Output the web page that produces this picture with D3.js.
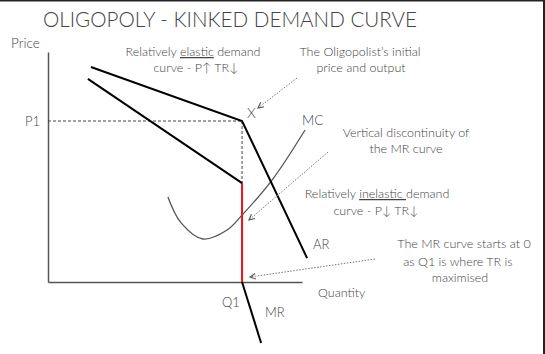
<!DOCTYPE html>
<html>
<head>
<meta charset="utf-8">
<script src="https://cdn.jsdelivr.net/npm/d3@7"></script>
<style>
  body { margin: 0; background: #fff; }
  text { font-family: Lato, "Open Sans", sans-serif; font-weight: 300; fill: #444; }
</style>
</head>
<body>
<div id="chart"></div>
<script>
// chart size
let svgWidth = 545;
let svgHeight = 354;

// curve data (quantity, price)
let arQ = [1.69, 7.64, 10.2];
let arP = [9.35, 7.0, 1.04];
let mrUpperQ = [1.57, 7.64];
let mrUpperP = [8.83, 4.3];
let mrLowerQ = [7.64, 8.39];
let mrLowerP = [0, -2.65];
let mcQ = [4.72, 5.24, 6.10, 7.05, 7.64, 8.82, 10.12];
let mcP = [3.70, 2.57, 1.87, 2.26, 2.91, 4.43, 6.61];
let p1 = 7.0;
let q1 = 7.64;
let mrKinkLow = 4.3;

let svg = d3.select('#chart').append('svg')
    .attr('width', svgWidth).attr('height', svgHeight);

// frame edges
svg.append('rect').attr('x', 0).attr('y', 0).attr('width', svgWidth).attr('height', 1.5).attr('fill', '#222');
svg.append('rect').attr('x', svgWidth - 2).attr('y', 0).attr('width', 2).attr('height', svgHeight).attr('fill', '#222');

// scales
let x = d3.scaleLinear().domain([0, 10]).range([48, 302]);
let y = d3.scaleLinear().domain([0, 10]).range([282, 52]);

// arrow marker (small open chevron)
svg.append('defs').append('marker')
    .attr('id', 'arrow')
    .attr('viewBox', '0 0 10 10')
    .attr('refX', 9).attr('refY', 5)
    .attr('markerWidth', 7).attr('markerHeight', 7)
    .attr('markerUnits', 'userSpaceOnUse')
    .attr('orient', 'auto')
    .append('path').attr('d', 'M1,1 L9,5 L1,9').attr('fill', 'none')
    .attr('stroke', '#555').attr('stroke-width', 1.6);

// axes (domain lines only)
svg.append('g').attr('transform', `translate(0, ${y(0)})`)
    .call(d3.axisBottom(x).tickValues([]).tickSizeOuter(0))
    .select('.domain').attr('stroke', '#555').attr('stroke-width', 1.5);
svg.append('g').attr('transform', `translate(${x(0)}, 0)`)
    .call(d3.axisLeft(y).tickValues([]).tickSizeOuter(0))
    .select('.domain').attr('stroke', '#555').attr('stroke-width', 1.5);

// dashed guides
svg.append('line')
    .attr('x1', x(0)).attr('x2', x(q1)).attr('y1', y(p1)).attr('y2', y(p1))
    .attr('stroke', '#444').attr('stroke-width', 1).attr('stroke-dasharray', '3,2');
svg.append('line')
    .attr('x1', x(q1)).attr('x2', x(q1)).attr('y1', y(p1)).attr('y2', y(mrKinkLow))
    .attr('stroke', '#444').attr('stroke-width', 1).attr('stroke-dasharray', '3,2');

let line = d3.line().x(d => x(d[0])).y(d => y(d[1]));

// MC curve
svg.append('path')
    .datum(d3.zip(mcQ, mcP))
    .attr('d', line.curve(d3.curveCatmullRom))
    .attr('fill', 'none').attr('stroke', '#555').attr('stroke-width', 1.3);

line.curve(d3.curveLinear);

// red vertical discontinuity
svg.append('line')
    .attr('x1', x(q1)).attr('x2', x(q1)).attr('y1', y(mrKinkLow)).attr('y2', y(0))
    .attr('stroke', '#e8141c').attr('stroke-width', 2);

// AR and MR
[d3.zip(arQ, arP), d3.zip(mrUpperQ, mrUpperP), d3.zip(mrLowerQ, mrLowerP)].forEach(function(pts) {
    svg.append('path').datum(pts).attr('d', line)
        .attr('fill', 'none').attr('stroke', '#000').attr('stroke-width', 2);
});

// dotted arrows
let arrows = [
    [297, 78, 258, 108],
    [328, 152, 249, 220],
    [375, 259, 250, 277]
];
arrows.forEach(function(a) {
    svg.append('line')
        .attr('x1', a[0]).attr('y1', a[1]).attr('x2', a[2]).attr('y2', a[3])
        .attr('stroke', '#777').attr('stroke-width', 1).attr('stroke-dasharray', '1.5,1.5')
        .attr('marker-end', 'url(#arrow)');
});

// title
svg.append('text').attr('x', 43).attr('y', 27)
    .attr('font-size', 21).attr('textLength', 374).attr('lengthAdjust', 'spacingAndGlyphs')
    .text('OLIGOPOLY - KINKED DEMAND CURVE');

// axis labels
function label(tx, ty, str, size, anchor) {
    return svg.append('text').attr('x', tx).attr('y', ty)
        .attr('font-size', size || 13).attr('text-anchor', anchor || 'start').text(str);
}
label(11, 48, 'Price', 13.5);
label(25, 126, 'P1', 13);
label(222, 307, 'Q1', 13);
label(265, 317, 'MR', 13);
label(318, 297, 'Quantity', 12.5);
label(313, 249, 'AR', 13);
label(302, 125, 'MC', 13.5);
label(247, 118, 'X', 14);

// annotations
let t1 = svg.append('text').attr('x', 193).attr('y', 56).attr('font-size', 12.5).attr('text-anchor', 'middle');
t1.append('tspan').text('Relatively ');
t1.append('tspan').attr('text-decoration', 'underline').text('elastic');
t1.append('tspan').text(' demand');
label(196, 72, 'curve - P\u2191 TR\u2193', 12.5, 'middle');

label(360, 56, 'The Oligopolist\u2019s initial', 12.5, 'middle');
label(361, 72, 'price and output', 12.5, 'middle');

label(406, 137, 'Vertical discontinuity of', 12.5, 'middle');
label(406, 153, 'the MR curve', 12.5, 'middle');

let t2 = svg.append('text').attr('x', 377).attr('y', 198).attr('font-size', 12.5).attr('text-anchor', 'middle');
t2.append('tspan').text('Relatively ');
t2.append('tspan').attr('text-decoration', 'underline').text('inelastic ');
t2.append('tspan').text('demand');
label(376, 215, 'curve - P\u2193 TR\u2193', 12.5, 'middle');

label(464, 248, 'The MR curve starts at 0', 12.5, 'middle');
label(458, 266, 'as Q1 is where TR is', 12.5, 'middle');
label(460, 282, 'maximised', 12.5, 'middle');
</script>
</body>
</html>
